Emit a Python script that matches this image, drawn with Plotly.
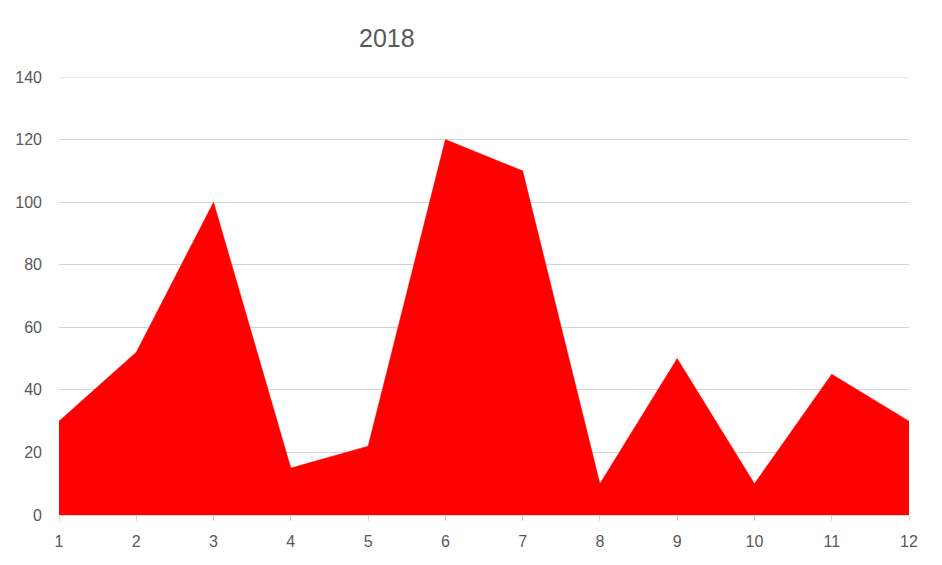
import plotly.graph_objects as go

months = [1, 2, 3, 4, 5, 6, 7, 8, 9, 10, 11, 12]
values_2018 = [30, 52, 100, 15, 22, 120, 110, 10, 50, 10, 45, 30]
y_ticks = [0, 20, 40, 60, 80, 100, 120, 140]

# page is offset ~8px by the body margin, so margins are compensated
L, R, T, B = 51, 41, 69, 58
W, H = 942, 565
plot_w, plot_h = W - L - R, H - T - B
grid_col = "#d4d4d4"

fig = go.Figure(go.Scatter(
    x=months, y=values_2018, mode="lines", fill="tozeroy",
    fillcolor="#ff0000", line=dict(color="#ff0000", width=0.5),
    hoverinfo="x+y", name="2018"
))

fig.update_layout(
    width=W, height=H,
    margin=dict(l=L, r=R, t=T, b=B),
    paper_bgcolor="white", plot_bgcolor="white",
    font=dict(family="Liberation Sans, Arial, sans-serif", color="#595959", size=16),
    showlegend=False,
    annotations=[dict(
        text="2018",
        x=(387 - 8 - L) / plot_w, y=1 + (T + 8 - 38) / plot_h,
        xref="paper", yref="paper",
        showarrow=False, font=dict(size=25, color="#595959"),
        xanchor="center", yanchor="middle"
    )],
)

fig.update_xaxes(
    range=[1, 12], tickvals=months, showgrid=False, zeroline=False,
    showline=True, linecolor=grid_col, linewidth=1, automargin=False,
    ticks="outside", ticklen=5, tickcolor=grid_col, ticklabelstandoff=7,
)
fig.update_yaxes(
    range=[0, 140], tickvals=y_ticks, showgrid=True, gridcolor=grid_col,
    gridwidth=1, zeroline=False, showline=False, ticks="", ticklabelstandoff=16,
    automargin=False,
)
# top gridline sits on the plot edge and is not drawn by plotly
fig.add_hline(y=max(y_ticks), line=dict(color=grid_col, width=1), layer="below")

fig.write_html("out.html")
